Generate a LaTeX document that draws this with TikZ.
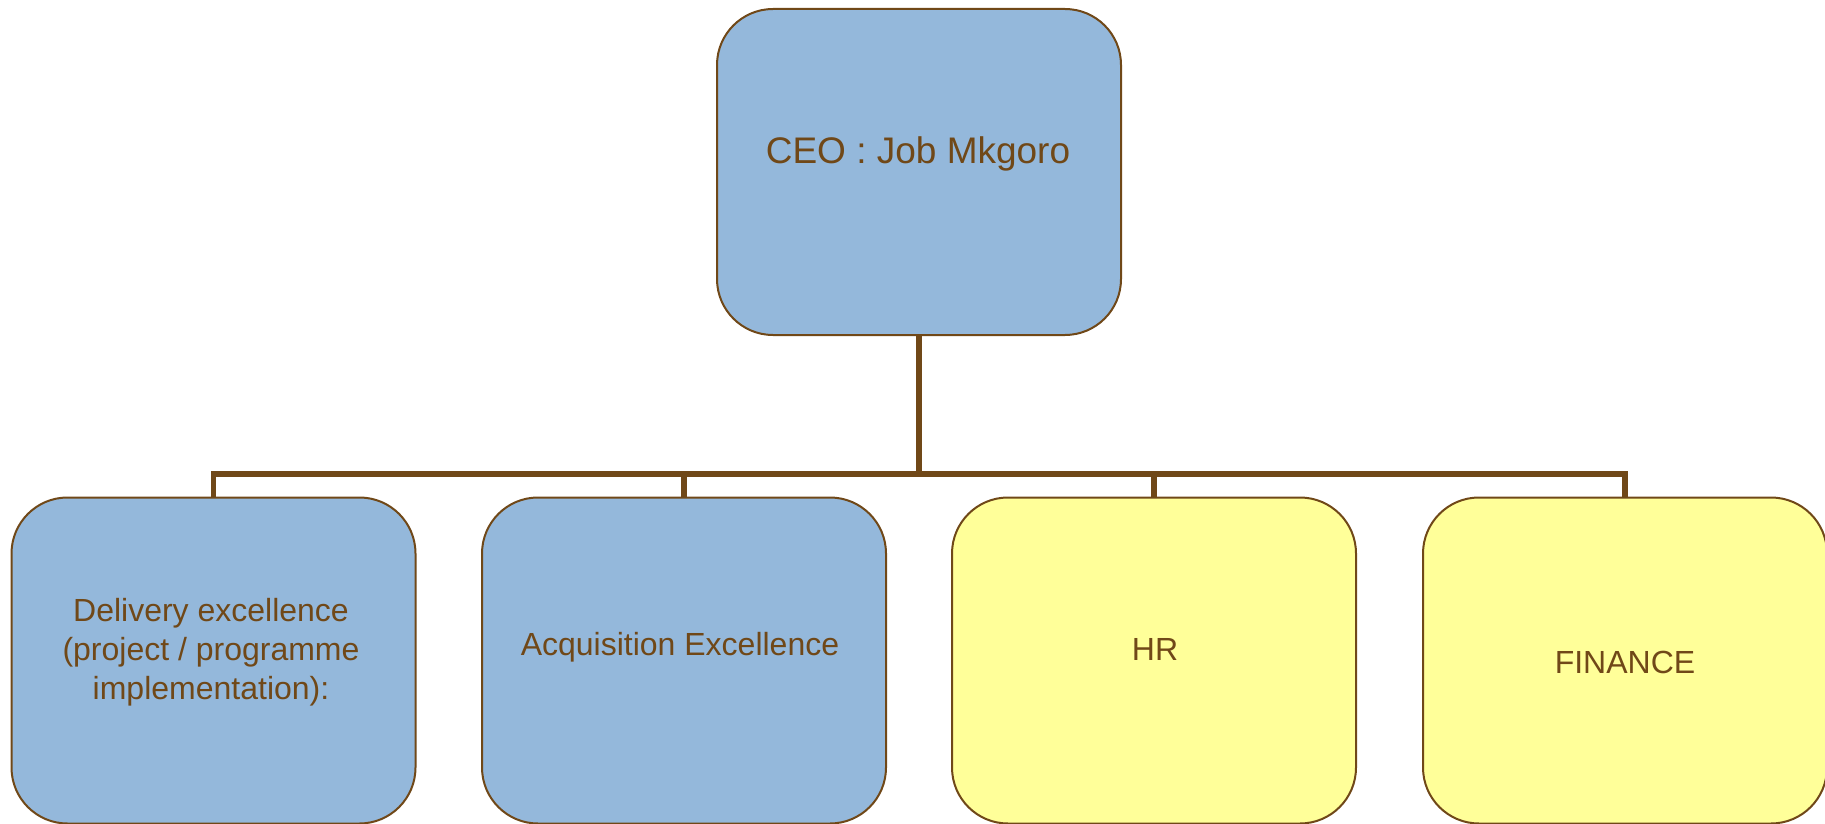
\documentclass[tikz,border=0pt]{standalone}
\usepackage{fontspec}
\setmainfont{Liberation Sans}
\usepackage{tikz}

\definecolor{bark}{RGB}{112,72,24}
\definecolor{paleblue}{RGB}{148,184,219}
\definecolor{paleyellow}{RGB}{255,255,153}

\begin{document}
\begin{tikzpicture}[x=0.5pt, y=-0.5pt,
  unit/.style={draw=bark, line width=1pt, rounded corners=28pt, minimum width=202pt, minimum height=163pt, inner sep=0pt},
  txt/.style={text=bark, font=\fontsize{16}{19.3}\selectfont, align=center, anchor=base},
  link/.style={draw=bark, line width=2.8pt}]
\useasboundingbox (0,0) rectangle (1825,824);

% boxes
\node[unit, fill=paleblue] (ceo) at (919,172) {};
\node[unit, fill=paleblue] (del) at (213.5,660.5) {};
\node[unit, fill=paleblue] (acq) at (684,660.5) {};
\node[unit, fill=paleyellow] (hr) at (1154,660.5) {};
\node[unit, fill=paleyellow] (fin) at (1625,660.5) {};

% labels (base = last line)
\node[txt, font=\fontsize{18.5}{22}\selectfont] (ceotxt) at (918,163) {CEO : Job Mkgoro};
\node[txt] (deltxt) at (211,699) {Delivery excellence\\(project / programme\\ implementation):};
\node[txt] (acqtxt) at (680,655) {Acquisition Excellence};
\node[txt] (hrtxt) at (1155,660) {HR};
\node[txt] (fintxt) at (1625,673) {FINANCE};

% connectors
\coordinate (split) at (919,474);
\draw[link] (ceo.south) -- (split);
\foreach \n in {del,acq,hr,fin}
  \draw[link] (split) -| (\n.north);
\end{tikzpicture}
\end{document}
